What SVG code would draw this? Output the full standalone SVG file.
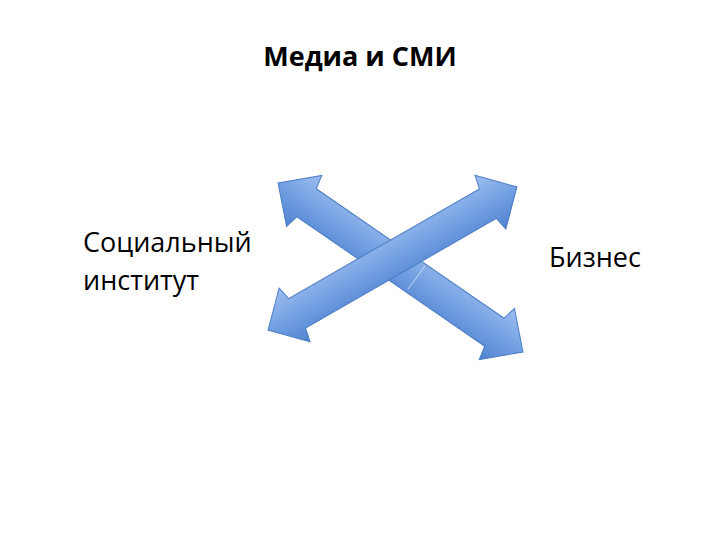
<svg xmlns="http://www.w3.org/2000/svg" width="720" height="540" viewBox="0 0 720 540">
<defs>
<linearGradient id="g" x1="0" y1="0" x2="0" y2="1">
<stop offset="0" stop-color="#9dbdee"/>
<stop offset="0.5" stop-color="#74a1e3"/>
<stop offset="1" stop-color="#4f82d0"/>
</linearGradient>
<path id="arrowShape" d="M-150,0 L-118,-31 L-115,-17 L115,-17 L118,-31 L150,0 L118,31 L115,17 L-115,17 L-118,31 Z"/>
</defs>
<style>
.arr{fill:url(#g);stroke:#4a7cc4;stroke-width:1;}
.t{font-family:"Open Sans","Liberation Sans",sans-serif;fill:#000;}
</style>
<rect width="720" height="540" fill="#fff"/>
<g id="connectors">
<g id="arrow-nw-se" transform="translate(400.5,267.5) rotate(34.6) scale(0.992,1)">
<use href="#arrowShape" class="arr"/>
</g>
<g id="arrow-sw-ne" transform="translate(392.5,258.5) rotate(-29.9) scale(0.957,1)">
<use href="#arrowShape" class="arr"/>
</g>
<line x1="425" y1="266" x2="408" y2="289" stroke="#c9dcf6" stroke-width="1"/>
</g>
<g id="title"><text class="t" x="360" y="66" font-size="27" font-weight="bold" text-anchor="middle">Медиа и СМИ</text></g>
<g id="social"><text class="t" x="83" y="252" font-size="27">Социальный</text><text class="t" x="83" y="290" font-size="27">институт</text></g>
<g id="business"><text class="t" x="549" y="267" font-size="27">Бизнес</text></g>
</svg>
